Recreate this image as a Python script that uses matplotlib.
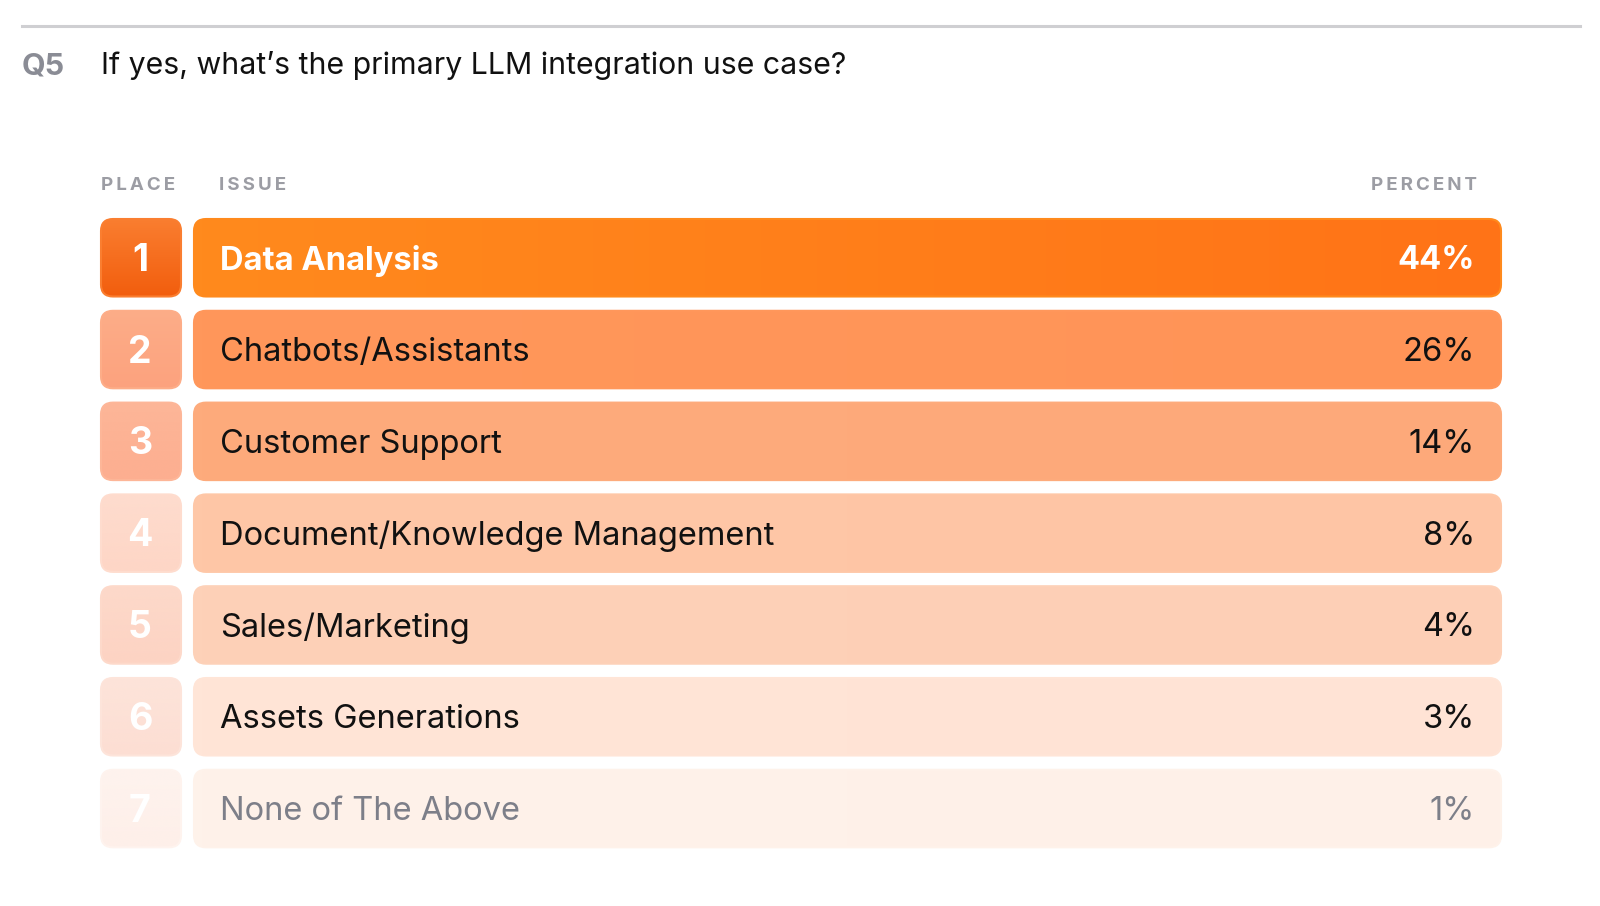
import matplotlib.pyplot as plt
import numpy as np
from matplotlib.patches import FancyBboxPatch
from matplotlib.colors import LinearSegmentedColormap

plt.rcParams['font.family'] = ['Inter', 'DejaVu Sans']

# Datos de la tabla
places = [1, 2, 3, 4, 5, 6, 7]
issues = ['Data Analysis', 'Chatbots/Assistants', 'Customer Support',
          'Document/Knowledge Management', 'Sales/Marketing',
          'Assets Generations', 'None of The Above']
percents = [44, 26, 14, 8, 4, 3, 1]

# Colores por fila (barra: izquierda -> derecha, caja: arriba -> abajo)
bar_left = ['#FF8A1D', '#FF975B', '#FDAB7C', '#FEC7A7', '#FDD1B8', '#FFE5D7', '#FEF2EA']
bar_right = ['#FF7317', '#FF9457', '#FDA97A', '#FEC5A5', '#FDCFB6', '#FFE3D5', '#FEF0E8']
box_top = ['#FA7E30', '#FDAD88', '#FDB698', '#FEDCCE', '#FDD9CA', '#FDE4DA', '#FEF3EE']
box_bottom = ['#F25E0E', '#FCA27E', '#FDAE90', '#FED6C6', '#FDD3C3', '#FDDED3', '#FEEFE9']
text_colors = ['white', '#111111', '#111111', '#111111', '#111111', '#111111', '#7D7F89']
text_weights = ['bold', 'normal', 'normal', 'normal', 'normal', 'normal', 'normal']

W, H = 1600, 906
fig = plt.figure(figsize=(16, 9.06), dpi=100)
ax = fig.add_axes([0, 0, 1, 1])


def gradient_patch(x, y, w, h, c0, c1, vertical, edge):
    patch = FancyBboxPatch((x, y), w, h, boxstyle='round,pad=0,rounding_size=12',
                           facecolor='none', edgecolor=edge, linewidth=1.5, zorder=3)
    ax.add_patch(patch)
    cmap = LinearSegmentedColormap.from_list('g', [c0, c1])
    grad = np.linspace(0, 1, 200)
    grad = grad.reshape(-1, 1) if vertical else grad.reshape(1, -1)
    im = ax.imshow(grad, extent=[x, x + w, y + h, y], origin='upper', cmap=cmap,
                   aspect='auto', interpolation='bicubic', zorder=2)
    im.set_clip_path(patch)


# Línea superior y título
ax.plot([22, 1580], [25.5, 25.5], color='#CFCFD2', linewidth=2.2)
ax.text(22, 66, 'Q5', fontsize=22, fontweight='bold', color='#8A8C95', va='center')
ax.text(101, 66, 'If yes, what\u2019s the primary LLM integration use case?',
        fontsize=21.8, color='#111111', va='center')

# Cabeceras
hdr = dict(fontsize=13.5, fontweight='bold', color='#9C9DA4', va='center')
ax.text(101, 186, '\u2009'.join('PLACE'), **hdr)
ax.text(219, 186, '\u2009'.join('ISSUE'), **hdr)
ax.text(1477, 186, '\u2009'.join('PERCENT'), ha='right', **hdr)

row_top, pitch, row_h = 219, 91.8, 77.5
for i, (p, name, pct) in enumerate(zip(places, issues, percents)):
    y = row_top + i * pitch
    # caja del puesto
    gradient_patch(101, y, 80, row_h, box_top[i], box_bottom[i], True, box_top[i])
    ax.text(140, y + row_h / 2 + 3, str(p), fontsize=27, fontweight='bold',
            color='white', ha='center', va='center', zorder=5)
    # barra
    gradient_patch(194, y, 1307, row_h, bar_left[i], bar_right[i], False, bar_left[i])
    ax.text(220, y + row_h / 2 + 3, name, fontsize=23.5, fontweight=text_weights[i],
            color=text_colors[i], ha='left', va='center', zorder=5)
    ax.text(1475, y + row_h / 2 + 3, f'{pct}%', fontsize=23.5, fontweight=text_weights[i],
            color=text_colors[i], ha='right', va='center', zorder=5)

ax.set_xlim(0, W)
ax.set_ylim(H, 0)
ax.axis('off')

plt.savefig('out.png', dpi=100, facecolor='white')
